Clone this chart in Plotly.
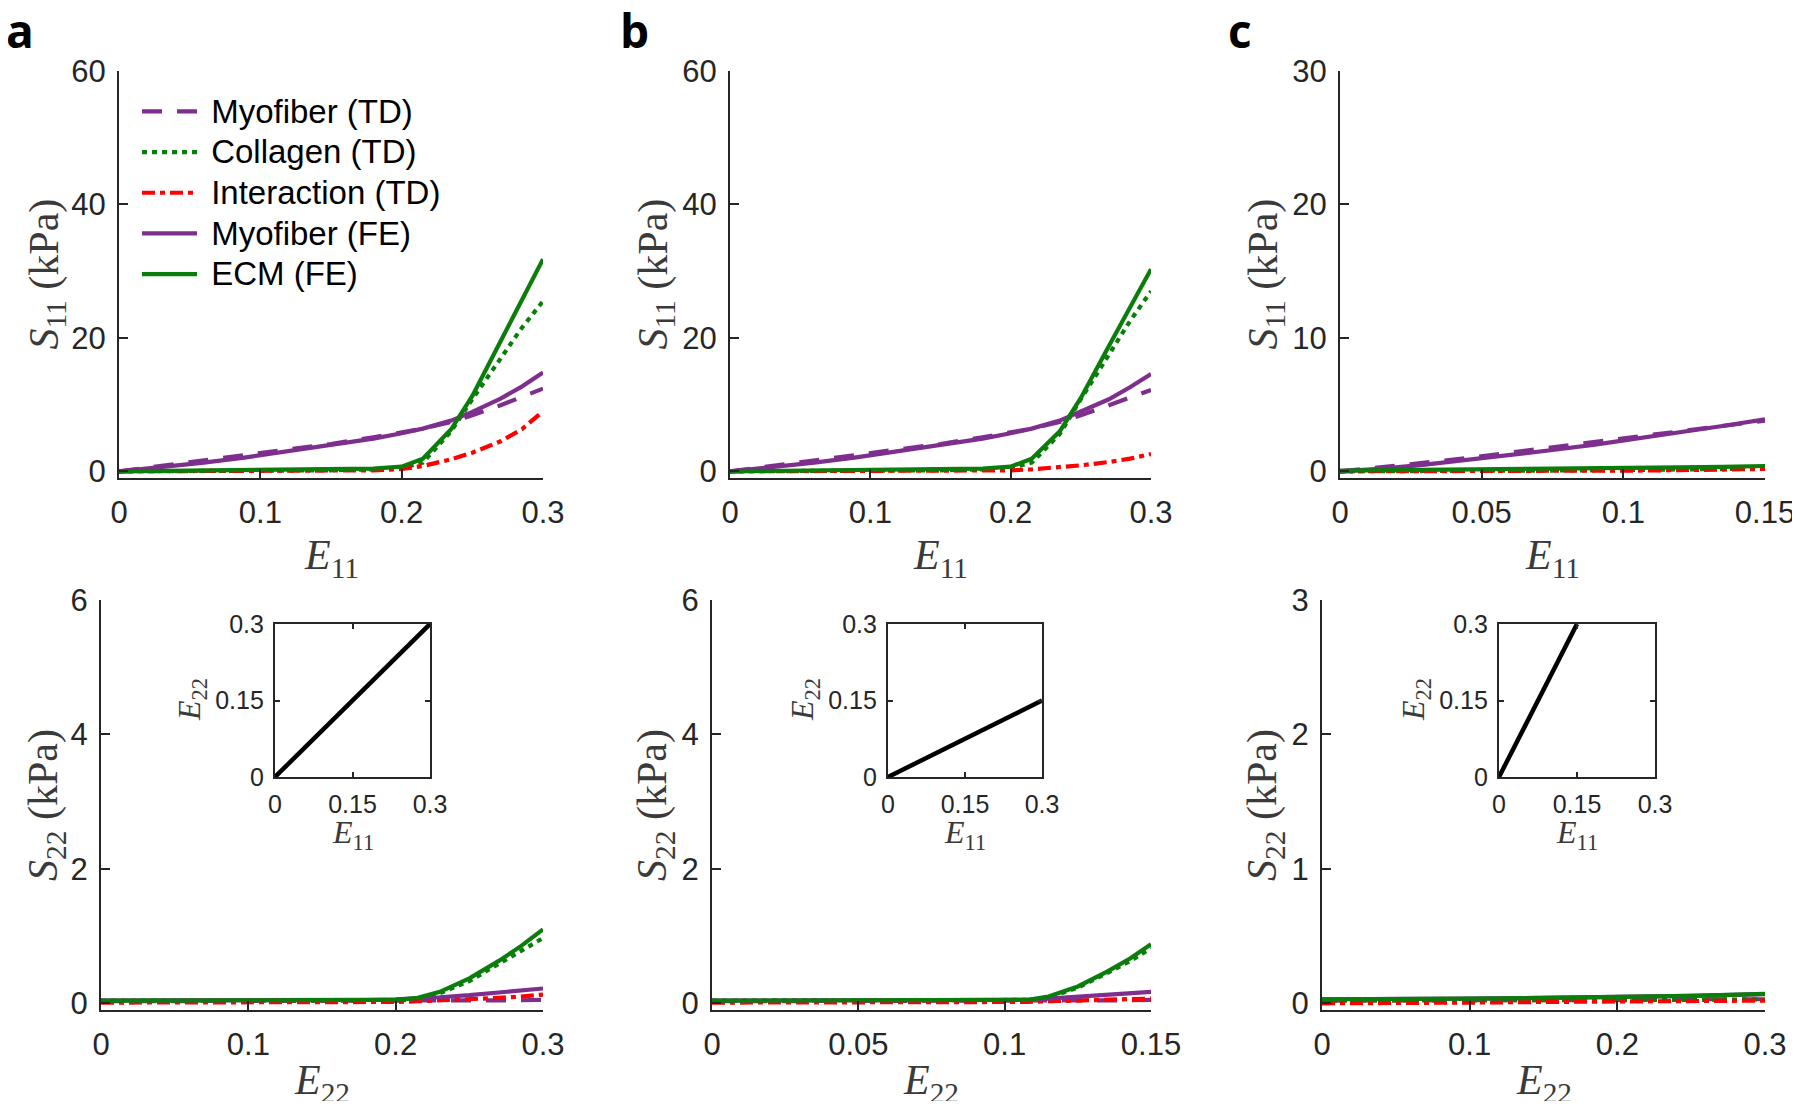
import plotly.graph_objects as go

# ---------------- DATA ----------------
# Panel a, top (S11 vs E11)
a11_E = [0, 0.03, 0.06, 0.09, 0.12, 0.15, 0.18, 0.2, 0.215, 0.235, 0.25, 0.27, 0.285, 0.3]
a11_myo_TD = [0, 0.8, 1.6, 2.4, 3.2, 4.1, 5.1, 5.8, 6.4, 7.4, 8.4, 9.9, 11.2, 12.4]
a11_col_TD = [0, 0, 0, 0.05, 0.1, 0.15, 0.3, 0.5, 1.3, 6.0, 10.8, 17.0, 21.5, 25.5]
a11_int_TD = [0, 0, 0, 0, 0, 0.05, 0.15, 0.35, 0.8, 1.8, 2.8, 4.5, 6.3, 9.0]
a11_myo_FE = [0, 0.6, 1.3, 2.1, 3.0, 3.9, 4.9, 5.7, 6.4, 7.6, 8.9, 10.9, 12.7, 14.8]
a11_ecm_FE = [0, 0.05, 0.1, 0.15, 0.2, 0.25, 0.4, 0.7, 1.9, 6.3, 11.3, 19.5, 25.6, 31.8]

# Panel b, top
b11_E = [0, 0.03, 0.06, 0.09, 0.12, 0.15, 0.18, 0.2, 0.215, 0.235, 0.25, 0.27, 0.285, 0.3]
b11_myo_TD = [0, 0.8, 1.6, 2.4, 3.2, 4.1, 5.1, 5.8, 6.4, 7.4, 8.4, 9.9, 11.1, 12.2]
b11_col_TD = [0, 0, 0, 0.05, 0.1, 0.15, 0.3, 0.5, 1.3, 5.6, 10.8, 17.6, 22.5, 27.0]
b11_int_TD = [0, 0, 0, 0, 0, 0.02, 0.08, 0.15, 0.3, 0.6, 0.9, 1.4, 1.9, 2.6]
b11_myo_FE = [0, 0.6, 1.3, 2.1, 3.0, 3.9, 4.9, 5.7, 6.4, 7.6, 8.9, 10.8, 12.6, 14.6]
b11_ecm_FE = [0, 0.05, 0.1, 0.15, 0.2, 0.25, 0.4, 0.7, 1.9, 6.0, 11.0, 18.8, 24.5, 30.3]

# Panel c, top
c11_E = [0, 0.015, 0.03, 0.045, 0.06, 0.075, 0.09, 0.105, 0.12, 0.135, 0.15]
c11_myo_TD = [0, 0.3, 0.65, 1.0, 1.4, 1.8, 2.2, 2.6, 3.0, 3.4, 3.8]
c11_col_TD = [0, 0, 0, 0.02, 0.04, 0.06, 0.08, 0.1, 0.12, 0.15, 0.2]
c11_int_TD = [0, 0, 0, 0, 0.01, 0.02, 0.04, 0.06, 0.09, 0.12, 0.18]
c11_myo_FE = [0, 0.2, 0.5, 0.85, 1.2, 1.6, 2.0, 2.45, 2.9, 3.4, 3.9]
c11_ecm_FE = [0.05, 0.07, 0.09, 0.11, 0.14, 0.17, 0.2, 0.24, 0.29, 0.34, 0.4]

# Panel a, bottom (S22 vs E22)
a22_E = [0, 0.03, 0.06, 0.09, 0.12, 0.15, 0.18, 0.2, 0.215, 0.23, 0.25, 0.27, 0.285, 0.3]
a22_myo_TD = [0.03, 0.03, 0.03, 0.03, 0.03, 0.03, 0.03, 0.035, 0.035, 0.04, 0.04, 0.04, 0.045, 0.05]
a22_col_TD = [0.04, 0.04, 0.04, 0.04, 0.04, 0.04, 0.04, 0.04, 0.06, 0.15, 0.33, 0.58, 0.77, 0.97]
a22_int_TD = [0.01, 0.01, 0.01, 0.01, 0.01, 0.01, 0.015, 0.02, 0.03, 0.04, 0.06, 0.08, 0.1, 0.13]
a22_myo_FE = [0.04, 0.04, 0.04, 0.045, 0.045, 0.05, 0.05, 0.06, 0.07, 0.09, 0.12, 0.16, 0.19, 0.22]
a22_ecm_FE = [0.04, 0.04, 0.04, 0.04, 0.04, 0.04, 0.045, 0.05, 0.08, 0.17, 0.37, 0.63, 0.85, 1.1]

# Panel b, bottom
b22_E = [0, 0.015, 0.03, 0.045, 0.06, 0.075, 0.09, 0.1, 0.108, 0.115, 0.125, 0.135, 0.143, 0.15]
b22_myo_TD = [0.03, 0.03, 0.03, 0.03, 0.03, 0.03, 0.03, 0.035, 0.035, 0.04, 0.04, 0.045, 0.045, 0.05]
b22_col_TD = [0.04, 0.04, 0.04, 0.04, 0.04, 0.04, 0.04, 0.04, 0.05, 0.09, 0.23, 0.45, 0.63, 0.82]
b22_int_TD = [0.01, 0.01, 0.01, 0.01, 0.01, 0.01, 0.015, 0.02, 0.02, 0.03, 0.04, 0.05, 0.06, 0.07]
b22_myo_FE = [0.04, 0.04, 0.04, 0.045, 0.045, 0.05, 0.05, 0.05, 0.05, 0.07, 0.1, 0.13, 0.15, 0.17]
b22_ecm_FE = [0.04, 0.04, 0.04, 0.04, 0.04, 0.04, 0.045, 0.05, 0.05, 0.1, 0.25, 0.47, 0.67, 0.88]

# Panel c, bottom
c22_E = [0, 0.05, 0.1, 0.15, 0.2, 0.25, 0.3]
c22_myo_TD = [0.02, 0.02, 0.02, 0.02, 0.025, 0.03, 0.03]
c22_col_TD = [0.02, 0.02, 0.02, 0.02, 0.02, 0.025, 0.03]
c22_int_TD = [0.0, 0.0, 0.005, 0.01, 0.012, 0.015, 0.02]
c22_myo_FE = [0.03, 0.03, 0.035, 0.04, 0.045, 0.055, 0.068]
c22_ecm_FE = [0.03, 0.03, 0.035, 0.04, 0.045, 0.055, 0.07]

# Insets (E22 vs E11 loading path)
inset_a_E11 = [0, 0.3]
inset_a_E22 = [0, 0.3]
inset_b_E11 = [0, 0.3]
inset_b_E22 = [0, 0.15]
inset_c_E11 = [0, 0.15]
inset_c_E22 = [0, 0.3]

series_names = ["Myofiber (TD)", "Collagen (TD)", "Interaction (TD)", "Myofiber (FE)", "ECM (FE)"]

ticks_x_03 = [0, 0.1, 0.2, 0.3]
ticks_x_03_text = ["0", "0.1", "0.2", "0.3"]
ticks_x_015 = [0, 0.05, 0.1, 0.15]
ticks_x_015_text = ["0", "0.05", "0.1", "0.15"]
ticks_y_60 = [0, 20, 40, 60]
ticks_y_30 = [0, 10, 20, 30]
ticks_y_6 = [0, 2, 4, 6]
ticks_y_3 = [0, 1, 2, 3]
ticks_inset = [0, 0.15, 0.3]
ticks_inset_text = ["0", "0.15", "0.3"]

# ---------------- STYLE ----------------
OFF = 8                       # default page margin of the html body
W, H = 1800 - OFF, 1109 - 2 * OFF
PURPLE = "#7E2F8E"
GREEN = "#0A7D0A"
RED = "#FF0000"
AXC = "#262626"
LBL = "#3a3a3a"
SANS = "Liberation Sans, Arial, sans-serif"
SERIF = "Liberation Serif, Times New Roman, serif"
LW = 4.2
EPS = 1e-6                    # keeps the end tick inside the axis range

styles = [
    dict(color=PURPLE, dash="20px,15px"),
    dict(color=GREEN, dash="5px,5px"),
    dict(color=RED, dash="13px,5px,5px,5px"),
    dict(color=PURPLE, dash="solid"),
    dict(color=GREEN, dash="solid"),
]


def px_x(x):
    return (x - OFF) / W


def px_y(y):
    return 1 - (y - OFF) / H


fig = go.Figure()

panels = [
    (1, a11_E, [a11_myo_TD, a11_col_TD, a11_int_TD, a11_myo_FE, a11_ecm_FE], [0, 0.3], ticks_x_03, ticks_x_03_text, [-1, 60], ticks_y_60, (119, 543), (71, 478)),
    (2, b11_E, [b11_myo_TD, b11_col_TD, b11_int_TD, b11_myo_FE, b11_ecm_FE], [0, 0.3], ticks_x_03, ticks_x_03_text, [-1, 60], ticks_y_60, (730, 1151), (71, 478)),
    (3, c11_E, [c11_myo_TD, c11_col_TD, c11_int_TD, c11_myo_FE, c11_ecm_FE], [0, 0.15], ticks_x_015, ticks_x_015_text, [-0.5, 30], ticks_y_30, (1340, 1765), (71, 478)),
    (4, a22_E, [a22_myo_TD, a22_col_TD, a22_int_TD, a22_myo_FE, a22_ecm_FE], [0, 0.3], ticks_x_03, ticks_x_03_text, [-0.1, 6], ticks_y_6, (101, 543), (600, 1010)),
    (5, b22_E, [b22_myo_TD, b22_col_TD, b22_int_TD, b22_myo_FE, b22_ecm_FE], [0, 0.15], ticks_x_015, ticks_x_015_text, [-0.1, 6], ticks_y_6, (712, 1151), (600, 1010)),
    (6, c22_E, [c22_myo_TD, c22_col_TD, c22_int_TD, c22_myo_FE, c22_ecm_FE], [0, 0.3], ticks_x_03, ticks_x_03_text, [-0.05, 3], ticks_y_3, (1322, 1765), (600, 1010)),
]

layout_axes = {}
for idx, E, sers, xr, xt, xtt, yr, yt, xd, yd in panels:
    xname = "x" if idx == 1 else f"x{idx}"
    yname = "y" if idx == 1 else f"y{idx}"
    for k, (ser, st, nm) in enumerate(zip(sers, styles, series_names)):
        fig.add_trace(go.Scatter(
            x=E, y=ser, mode="lines",
            name='<span style="font-size:33px">\u00a0' + nm + '</span>',
            line=dict(color=st["color"], dash=st["dash"], width=LW),
            xaxis=xname, yaxis=yname,
            showlegend=(idx == 1),
        ))
    common = dict(showline=True, linecolor=AXC, linewidth=2.2, ticks="inside", ticklen=9,
                  tickwidth=2, tickcolor=AXC, showgrid=False, zeroline=False, mirror=False,
                  automargin=False, ticklabeloverflow="allow",
                  tickfont=dict(family=SANS, size=31, color=AXC))
    layout_axes["xaxis" if idx == 1 else f"xaxis{idx}"] = dict(
        common, domain=[px_x(xd[0]), px_x(xd[1])], range=[xr[0], xr[1] + EPS],
        tickvals=xt, ticktext=xtt, anchor=yname, ticklabelstandoff=6)
    layout_axes["yaxis" if idx == 1 else f"yaxis{idx}"] = dict(
        common, domain=[px_y(yd[1]), px_y(yd[0])], range=[yr[0], yr[1] + EPS],
        tickvals=yt, anchor=xname, ticklabelstandoff=5)

insets = [
    (7, inset_a_E11, inset_a_E22, (275, 430)),
    (8, inset_b_E11, inset_b_E22, (888, 1042)),
    (9, inset_c_E11, inset_c_E22, (1499, 1655)),
]
for idx, ex, ey, xd in insets:
    fig.add_trace(go.Scatter(x=ex, y=ey, mode="lines", line=dict(color="black", width=4.5),
                             xaxis=f"x{idx}", yaxis=f"y{idx}", showlegend=False))
    common = dict(showline=True, linecolor=AXC, linewidth=2.2, ticks="inside", ticklen=5,
                  tickwidth=2, tickcolor=AXC, showgrid=False, zeroline=False, mirror="ticks",
                  automargin=False, ticklabeloverflow="allow",
                  range=[0, 0.3 + EPS], tickvals=ticks_inset, ticktext=ticks_inset_text,
                  tickfont=dict(family=SANS, size=25, color=AXC))
    layout_axes[f"xaxis{idx}"] = dict(common, domain=[px_x(xd[0]), px_x(xd[1])],
                                      anchor=f"y{idx}", ticklabelstandoff=4)
    layout_axes[f"yaxis{idx}"] = dict(common, domain=[px_y(777), px_y(624)],
                                      anchor=f"x{idx}", ticklabelstandoff=4)

annotations = []
# Panel letters
for letter, x in [("a", 4), ("b", 618), ("c", 1226)]:
    annotations.append(dict(text=f"<b>{letter}</b>", x=px_x(x), y=px_y(30), xref="paper", yref="paper",
                            xanchor="left", yanchor="middle", showarrow=False,
                            font=dict(family="Open Sans, Noto Sans, sans-serif", size=46, color="black")))

# Main axis titles
for idx, E, sers, xr, xt, xtt, yr, yt, xd, yd in panels:
    top = idx <= 3
    xlabel = "<i>E</i><sub>11</sub>" if top else "<i>E</i><sub>22</sub>"
    ylabel = ("<i>S</i><sub>11</sub> (kPa)" if top else "<i>S</i><sub>22</sub> (kPa)")
    annotations.append(dict(text=xlabel, x=px_x((xd[0] + xd[1]) / 2), y=px_y(558 if top else 1083),
                            xref="paper", yref="paper", xanchor="center", yanchor="middle",
                            showarrow=False, font=dict(family=SERIF, size=42, color=LBL)))
    ylx = {1: 46, 2: 655, 3: 1265, 4: 46, 5: 655, 6: 1265}[idx]
    annotations.append(dict(text=ylabel, x=px_x(ylx), y=px_y((yd[0] + yd[1]) / 2),
                            xref="paper", yref="paper", xanchor="center", yanchor="middle",
                            textangle=-90, showarrow=False, font=dict(family=SERIF, size=42, color=LBL)))

# Inset titles
for idx, ex, ey, xd in insets:
    annotations.append(dict(text="<i>E</i><sub>11</sub>", x=px_x((xd[0] + xd[1]) / 2), y=px_y(834),
                            xref="paper", yref="paper", xanchor="center", yanchor="middle",
                            showarrow=False, font=dict(family=SERIF, size=32, color=LBL)))
    annotations.append(dict(text="<i>E</i><sub>22</sub>", x=px_x(xd[0] - 84), y=px_y(700),
                            xref="paper", yref="paper", xanchor="center", yanchor="middle",
                            textangle=-90, showarrow=False, font=dict(family=SERIF, size=32, color=LBL)))

fig.update_layout(
    template="none",
    width=W, height=H,
    margin=dict(l=0, r=0, t=0, b=0, autoexpand=False),
    paper_bgcolor="white", plot_bgcolor="white",
    showlegend=True,
    legend=dict(x=px_x(137), y=px_y(86), xanchor="left", yanchor="top",
                bgcolor="rgba(0,0,0,0)", borderwidth=0,
                font=dict(family=SANS, size=29, color="black"),
                traceorder="normal", tracegroupgap=0, itemwidth=55),
    annotations=annotations,
    **layout_axes,
)

fig.write_html("out.html")
